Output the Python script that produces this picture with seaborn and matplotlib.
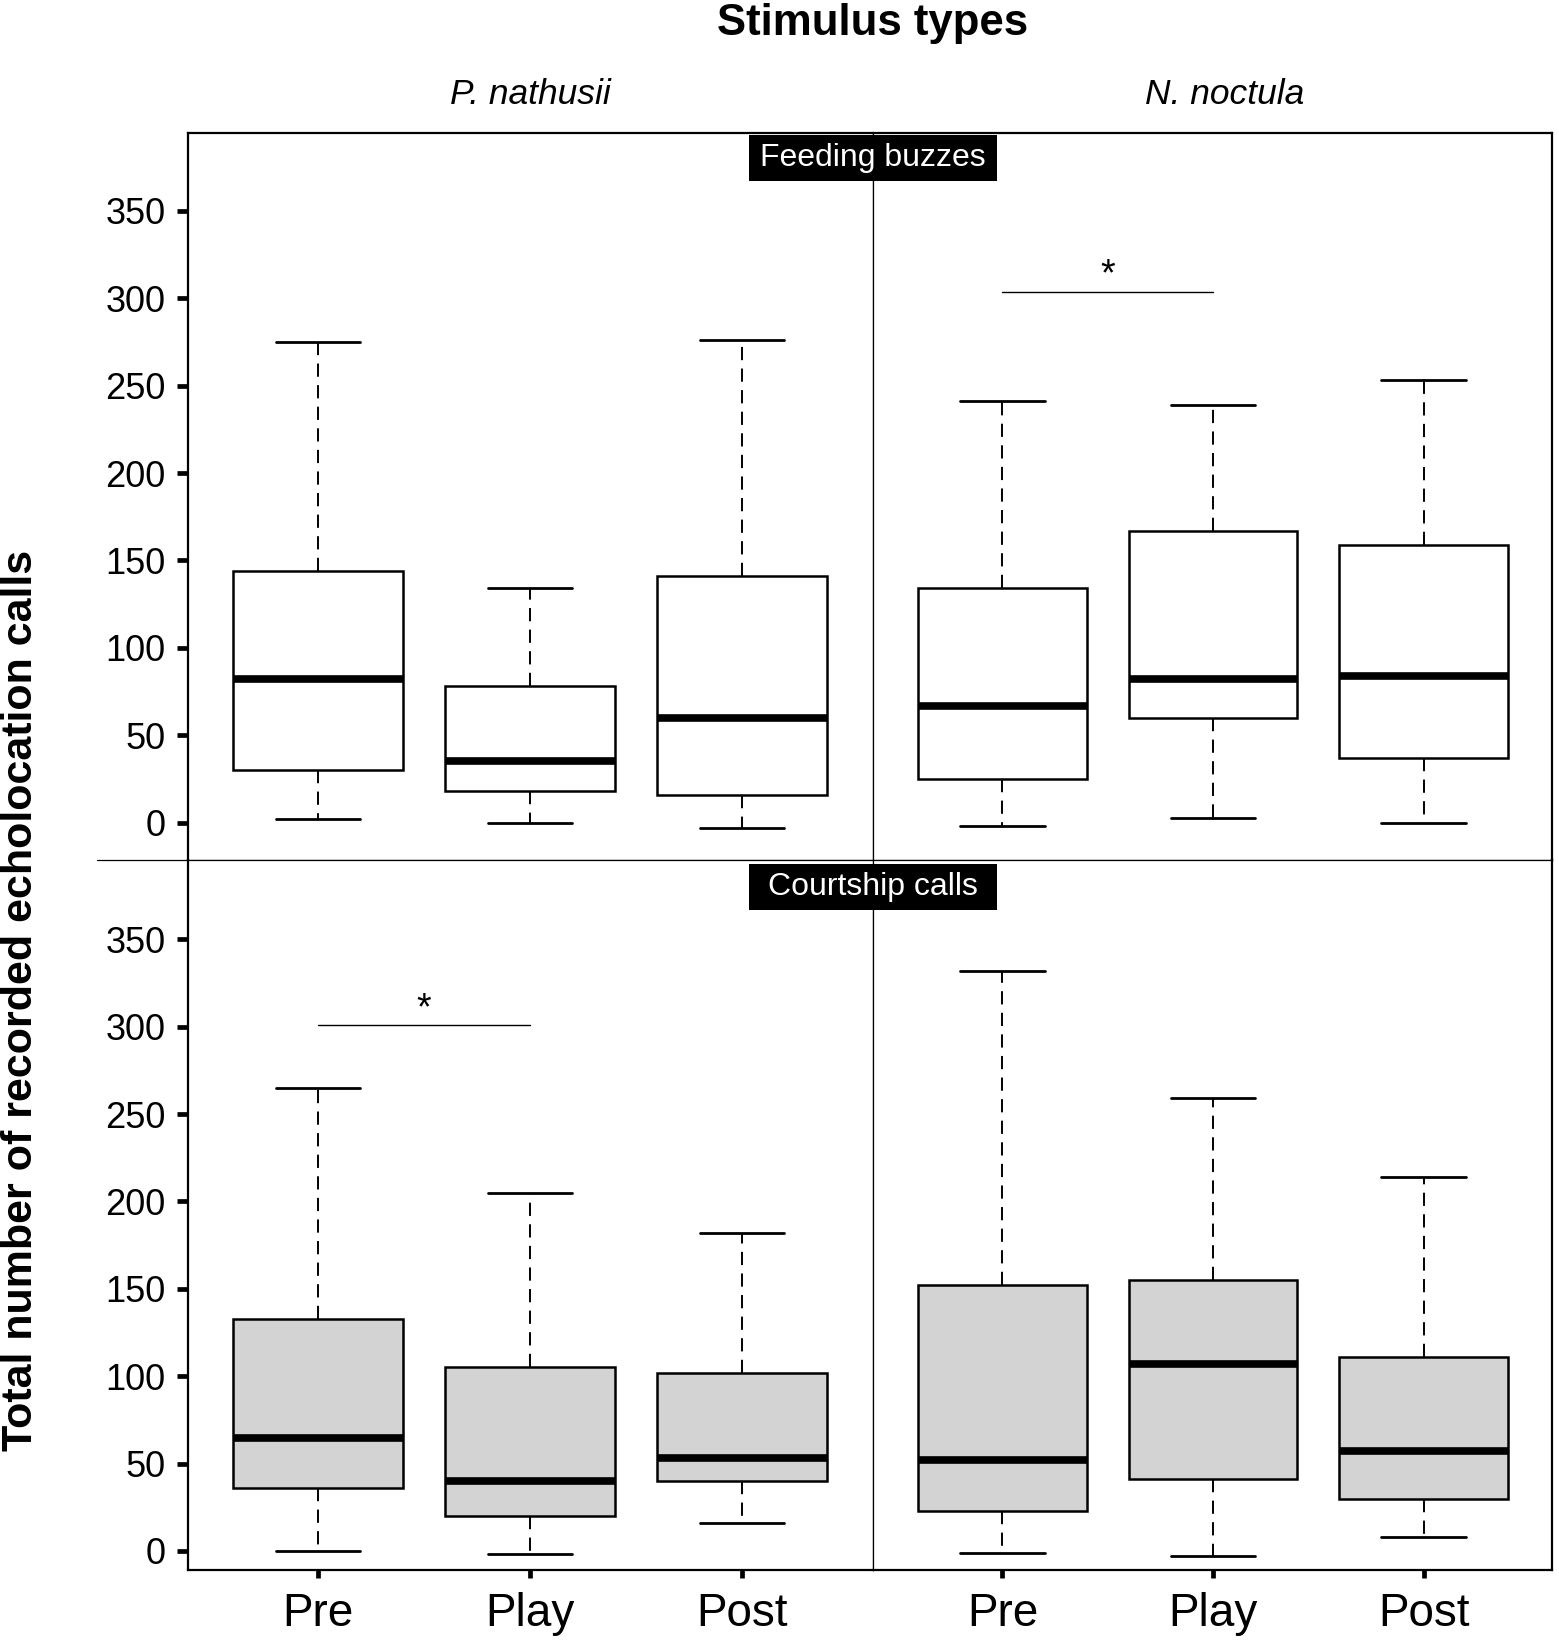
import numpy as np
import pandas as pd
import matplotlib
matplotlib.use("Agg")
import matplotlib.pyplot as plt
from matplotlib.patches import Rectangle
from matplotlib.lines import Line2D
import seaborn as sns

sns.set_style("white")
plt.rcParams['font.family'] = ['Liberation Sans', 'DejaVu Sans']
plt.rcParams['text.color'] = 'black'
plt.rcParams['axes.labelcolor'] = 'black'
plt.rcParams['xtick.color'] = 'black'
plt.rcParams['ytick.color'] = 'black'
plt.rcParams['axes.edgecolor'] = 'black'

# ---------------- data (five-number summaries) ----------------
phases = ["Pre", "Play", "Post"]
species = ["P. nathusii", "N. noctula"]
call_types = ["Feeding buzzes", "Courtship calls"]
stat_names = ["whisker_low", "q1", "median", "q3", "whisker_high"]

# Feeding buzzes
feed_pnat_pre = [2, 30, 82, 144, 275]
feed_pnat_play = [0, 18, 35.5, 78, 134]
feed_pnat_post = [-3, 16, 60, 141, 276]
feed_nnoc_pre = [-2, 25, 67, 134, 241]
feed_nnoc_play = [3, 60, 82, 167, 239]
feed_nnoc_post = [0, 37, 84, 159, 253]
# Courtship calls
court_pnat_pre = [0, 36, 64.5, 133, 265]
court_pnat_play = [-2, 20, 40, 105, 205]
court_pnat_post = [16, 40, 53, 102, 182]
court_nnoc_pre = [-1, 23, 52, 152, 332]
court_nnoc_play = [-3, 41, 107, 155, 259]
court_nnoc_post = [8, 29.5, 57, 111, 214]

# significance bars: (row, col, from phase, to phase, bar height, star height)
sig_row = [0, 1]
sig_col = [1, 0]
sig_from = ["Pre", "Pre"]
sig_to = ["Play", "Play"]
sig_bar_y = [303.5, 301]
sig_star_y = [313, 310]

y_ticks = [0, 50, 100, 150, 200, 250, 300, 350]

panels = {
    (0, 0): [feed_pnat_pre, feed_pnat_play, feed_pnat_post],
    (0, 1): [feed_nnoc_pre, feed_nnoc_play, feed_nnoc_post],
    (1, 0): [court_pnat_pre, court_pnat_play, court_pnat_post],
    (1, 1): [court_nnoc_pre, court_nnoc_play, court_nnoc_post],
}

# ---------------- layout ----------------
fig = plt.figure(figsize=(15.59, 16.47), dpi=100)
W, H = 1559, 1647
x_left, x_mid, x_right = 187.7 / W, 873 / W, 1552 / W
y_top, y_mid, y_bot = 1 - 133.3 / H, 1 - 860 / H, 1 - 1570 / H

rects = {
    (0, 0): [x_left, y_mid, x_mid - x_left, y_top - y_mid],
    (0, 1): [x_mid, y_mid, x_right - x_mid, y_top - y_mid],
    (1, 0): [x_left, y_bot, x_mid - x_left, y_mid - y_bot],
    (1, 1): [x_mid, y_bot, x_right - x_mid, y_mid - y_bot],
}
ylims = {0: (-21.3, 394.3), 1: (-10.9, 395.4)}
xlims = {0: (-0.615, 2.618), 1: (-0.615, 2.61)}
fills = {0: "white", 1: "#d3d3d3"}

for (r, c), stats in panels.items():
    ax = fig.add_axes(rects[(r, c)])
    df = pd.DataFrame({
        "phase": np.repeat(phases, len(stat_names)),
        "value": np.concatenate([np.asarray(s, float) for s in stats]),
    })
    sns.boxplot(
        data=df, x="phase", y="value", order=phases, ax=ax,
        color=fills[r], linecolor="black", linewidth=1.8, width=0.8,
        whis=(0, 100), saturation=1, showfliers=False,
        medianprops=dict(linewidth=5.5, color="black", solid_capstyle="butt"),
        whiskerprops=dict(linestyle=(0, (6.8, 4.3)), linewidth=1.4, color="black"),
        capprops=dict(linewidth=2.0, color="black"),
        boxprops=dict(edgecolor="black"),
    )
    ax.set_xlim(*xlims[c])
    ax.set_ylim(*ylims[r])
    ax.set_xlabel("")
    ax.set_ylabel("")
    for side, sp in ax.spines.items():
        sp.set_visible(True)
        sp.set_color("black")
        outer = (side == "left" and c == 0) or (side == "right" and c == 1) or \
                (side == "top" and r == 0) or (side == "bottom" and r == 1)
        sp.set_linewidth(1.6 if outer else 0.9)
    if c == 0:
        ax.set_yticks(y_ticks)
        ax.set_yticklabels([str(t) for t in y_ticks])
        ax.tick_params(axis="y", which="both", left=True, direction="out",
                       length=8, width=3.4, pad=8, labelsize=26, color="black",
                       labelcolor="black")
    else:
        ax.set_yticks([])
    if r == 1:
        ax.set_xticks(range(len(phases)))
        ax.set_xticklabels(phases)
        ax.tick_params(axis="x", which="both", bottom=True, direction="out",
                       length=5.5, width=3.4, pad=10, labelsize=33, color="black",
                       labelcolor="black")
    else:
        ax.set_xticks([])

    for i in range(len(sig_row)):
        if sig_row[i] == r and sig_col[i] == c:
            x0, x1 = phases.index(sig_from[i]), phases.index(sig_to[i])
            ax.plot([x0, x1], [sig_bar_y[i], sig_bar_y[i]], color="black", lw=1.0)
            ax.text((x0 + x1) / 2, sig_star_y[i], "*", ha="center", va="center",
                    fontsize=27, color="black")

# ---------------- strips and titles ----------------
strip_w, strip_h = 248 / W, 46 / H
strip_centers_y = [1 - 158 / H, 1 - 886.7 / H]
for label, cy in zip(call_types, strip_centers_y):
    fig.patches.append(Rectangle((x_mid - strip_w / 2, cy - strip_h / 2), strip_w, strip_h,
                                 transform=fig.transFigure, facecolor="black",
                                 edgecolor="none", zorder=5))
    fig.text(x_mid, cy, label, ha="center", va="center", color="white",
             fontsize=23, zorder=6)

fig.add_artist(Line2D([97 / W, x_left], [y_mid, y_mid], color="black", lw=0.9,
                      transform=fig.transFigure))

fig.text(x_mid, 1 - 24 / H, "Stimulus types", ha="center", va="center",
         fontsize=31.5, fontweight="bold", color="black")
fig.text((x_left + x_mid) / 2, 1 - 95 / H, species[0], ha="center", va="center",
         fontsize=25.5, style="italic", color="black")
fig.text((x_mid + x_right) / 2 + 12 / W, 1 - 95 / H, species[1], ha="center", va="center",
         fontsize=25.5, style="italic", color="black")
fig.text(21 / W, 1 - 1000 / H, "Total number of recorded echolocation calls",
         rotation=90, ha="center", va="center", fontsize=31, fontweight="bold",
         color="black")

fig.savefig("out.png", dpi=100, facecolor="white")
